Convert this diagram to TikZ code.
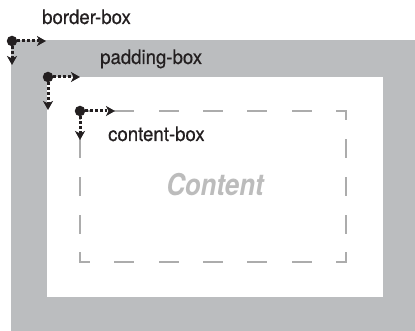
\documentclass[tikz,border=0pt]{standalone}
\usepackage{fontspec}
\usepackage{graphicx}
\setmainfont{TeX Gyre Heros}
\newfontfamily\lblfont[FakeBold=0.5]{TeX Gyre Heros}
\usetikzlibrary{arrows.meta}
\definecolor{boxgray}{RGB}{187,189,191}
\definecolor{ink}{RGB}{35,31,32}
\definecolor{dashgray}{RGB}{172,172,172}
\definecolor{contentgray}{RGB}{188,188,188}
\begin{document}
\begin{tikzpicture}[x=1pt,y=-1pt,
  originpt/.style={circle,fill=ink,inner sep=0pt,minimum size=10.5pt},
  offarrow/.style={draw=ink,line width=3pt,dash pattern=on 2.8pt off 2pt,
    -{Stealth[length=9pt,width=10pt,inset=2.5pt]}},
  lbl/.style={text=ink,font=\lblfont\fontsize{20}{22}\selectfont,inner sep=0pt,anchor=base west},
  hside/.style={draw=dashgray,line width=2pt,line cap=rect,dash pattern=on 18pt off 26.33pt,dash phase=9pt},
  vside/.style={draw=dashgray,line width=2pt,line cap=rect,dash pattern=on 17pt off 20.75pt,dash phase=8.5pt}
]
\useasboundingbox (0,0) rectangle (415,331);
% boxes
\fill[boxgray] (11,40) rectangle (415,331);
\fill[white] (47,77) rectangle (383,297);
% content box (dashed)
\coordinate (ctl) at (80,111);
\coordinate (ctr) at (346,111);
\coordinate (cbl) at (80,262);
\coordinate (cbr) at (346,262);
\draw[hside] (ctl) -- (ctr);
\draw[hside] (cbl) -- (cbr);
\draw[vside] (ctl) -- (cbl);
\draw[vside] (ctr) -- (cbr);
% labels
\node[lbl] (bbl) at (42,24) {\scalebox{0.93}[1]{border-box}};
\node[lbl] (pbl) at (100,64) {\scalebox{0.93}[1]{padding-box}};
\node[lbl] (cbxl) at (108,141) {\scalebox{0.93}[1]{content-box}};
\node[anchor=base,inner sep=0pt,text=contentgray,font=\bfseries\itshape\fontsize{30}{31}\selectfont] (content) at (215,196) {\scalebox{0.86}[1]{Content}};
% origins and offset arrows
\node[originpt] (bo) at (12,41) {};
\coordinate (bor) at (46,41);
\coordinate (bod) at (12,65);
\draw[offarrow] (bo) -- (bor);
\draw[offarrow] (bo) -- (bod);
\node[originpt] (po) at (48,77) {};
\coordinate (por) at (80,77);
\coordinate (pod) at (48,110);
\draw[offarrow] (po) -- (por);
\draw[offarrow] (po) -- (pod);
\node[originpt] (co) at (80,111) {};
\coordinate (cor) at (115,111);
\coordinate (cod) at (80,140);
\draw[offarrow] (co) -- (cor);
\draw[offarrow] (co) -- (cod);
\end{tikzpicture}
\end{document}
